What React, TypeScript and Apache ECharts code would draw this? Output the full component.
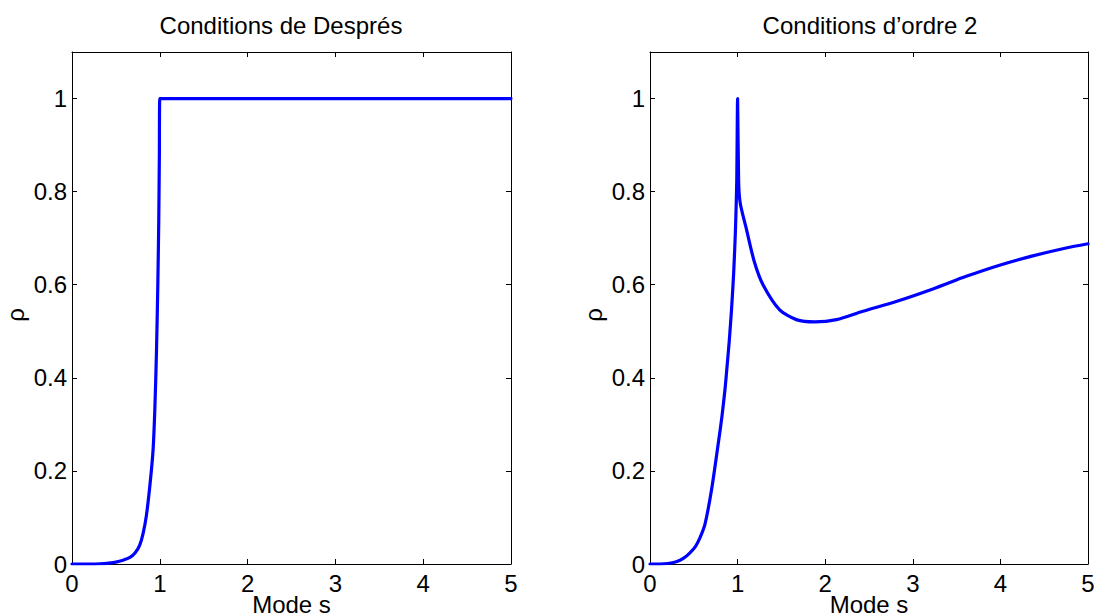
import React, { useEffect, useRef } from "react";
import * as echarts from "echarts";

// Left panel: "Conditions de Després"
const despresS = [0, 0.2, 0.32, 0.42, 0.5, 0.58, 0.66, 0.72, 0.77, 0.81, 0.848, 0.89, 0.923, 0.943, 0.962, 0.977, 0.988, 0.995, 1.0, 1.02, 2, 3, 4, 5];
const despresRho = [0, 0, 0.0005, 0.002, 0.004, 0.008, 0.014, 0.024, 0.04, 0.066, 0.105, 0.174, 0.244, 0.33, 0.455, 0.596, 0.736, 0.877, 1.0, 1, 1, 1, 1, 1];

// Right panel: "Conditions d'ordre 2"
const ordre2S = [0, 0.114, 0.2, 0.3, 0.38, 0.456, 0.52, 0.57, 0.627, 0.703, 0.78, 0.82, 0.856, 0.88, 0.905, 0.93, 0.955, 0.975, 0.99, 1.0, 1.012, 1.03, 1.1, 1.19, 1.29, 1.48, 1.67, 1.88, 2.13, 2.43, 2.81, 3.23, 3.61, 3.99, 4.37, 4.75, 5.0];
const ordre2Rho = [0, 0, 0.001, 0.005, 0.012, 0.024, 0.038, 0.056, 0.085, 0.16, 0.26, 0.315, 0.375, 0.425, 0.48, 0.545, 0.625, 0.715, 0.82, 1.0, 0.82, 0.775, 0.72, 0.65, 0.60, 0.546, 0.525, 0.52, 0.525, 0.543, 0.564, 0.591, 0.618, 0.642, 0.662, 0.679, 0.688];

const yTickLabels = ["0", "0.2", "0.4", "0.6", "0.8", "1"];
const titles = ["Conditions de Després", "Conditions d\u2019ordre 2"];
const xName = "Mode s";
const yName = "\u03c1";

export default function App() {
  const ref = useRef<HTMLDivElement>(null);
  useEffect(() => {
    const chart = echarts.init(ref.current!, null, { renderer: "svg" });
    const font = "'Liberation Sans', Arial, Helvetica, sans-serif";
    const fs = 24;
    const grids = [
      { left: 72, top: 52, width: 439, height: 512, outerBoundsMode: "none", containLabel: false },
      { left: 650, top: 52, width: 438, height: 512, outerBoundsMode: "none", containLabel: false },
    ];
    const titleX = [281, 870];
    const axisLine = { show: true, onZero: false, lineStyle: { color: "#000", width: 1 } };
    const axisTick = { show: true, inside: true, length: 5, lineStyle: { color: "#000", width: 1 } };
    const yFmt = (v: number) => {
      const idx = Math.round(v / 0.2);
      if (Math.abs(v - idx * 0.2) < 1e-6 && idx >= 0 && idx < yTickLabels.length) return yTickLabels[idx];
      return "";
    };
    const xAxes: any[] = [];
    const yAxes: any[] = [];
    grids.forEach((_, i) => {
      xAxes.push({
        type: "value", gridIndex: i, position: "bottom", min: 0, max: 5, interval: 1,
        axisLine, axisTick, splitLine: { show: false },
        axisLabel: { color: "#000", fontSize: fs, fontFamily: font, margin: 7 },
        name: xName, nameLocation: "middle", nameGap: 28, nameMoveOverlap: false,
        nameTextStyle: { color: "#000", fontSize: fs, fontFamily: font },
      });
      xAxes.push({
        type: "value", gridIndex: i, position: "top", min: 0, max: 5, interval: 1,
        axisLine, axisTick, splitLine: { show: false }, axisLabel: { show: false },
      });
      yAxes.push({
        type: "value", gridIndex: i, position: "left", min: 0, max: 1.1, interval: 0.2,
        axisLine, axisTick, splitLine: { show: false },
        axisLabel: { color: "#000", fontSize: fs, fontFamily: font, margin: 5, formatter: yFmt, showMaxLabel: false },
        name: yName, nameLocation: "middle", nameGap: 45, nameMoveOverlap: false,
        nameTextStyle: { color: "#000", fontSize: fs, fontFamily: font, padding: [0, 14, 0, 0] },
      });
      yAxes.push({
        type: "value", gridIndex: i, position: "right", min: 0, max: 1.1, interval: 0.2,
        axisLine, axisTick, splitLine: { show: false }, axisLabel: { show: false },
      });
    });
    const mk = (s: number[], r: number[]) => s.map((x, k) => [x, r[k]]);
    const lineStyle = { color: "#0000ff", width: 3.2, join: "round", cap: "round" };
    chart.setOption({
      animation: false,
      backgroundColor: "#fff",
      grid: grids,
      xAxis: xAxes,
      yAxis: yAxes,
      graphic: titles.map((t, i) => ({
        type: "text", x: titleX[i], y: 25,
        style: { text: t, fill: "#000", font: `${fs}px ${font}`, textAlign: "center", textVerticalAlign: "middle" },
      })),
      series: [
        {
          type: "line", xAxisIndex: 0, yAxisIndex: 0, data: mk(despresS, despresRho),
          showSymbol: false, smooth: 0.25, lineStyle,
        },
        {
          type: "line", xAxisIndex: 2, yAxisIndex: 2, data: mk(ordre2S, ordre2Rho),
          showSymbol: false, smooth: 0.25, lineStyle,
        },
      ],
    });
    return () => chart.dispose();
  }, []);
  return <div ref={ref} style={{ position: "fixed", left: 0, top: 0, width: 1094, height: 616 }} />;
}
